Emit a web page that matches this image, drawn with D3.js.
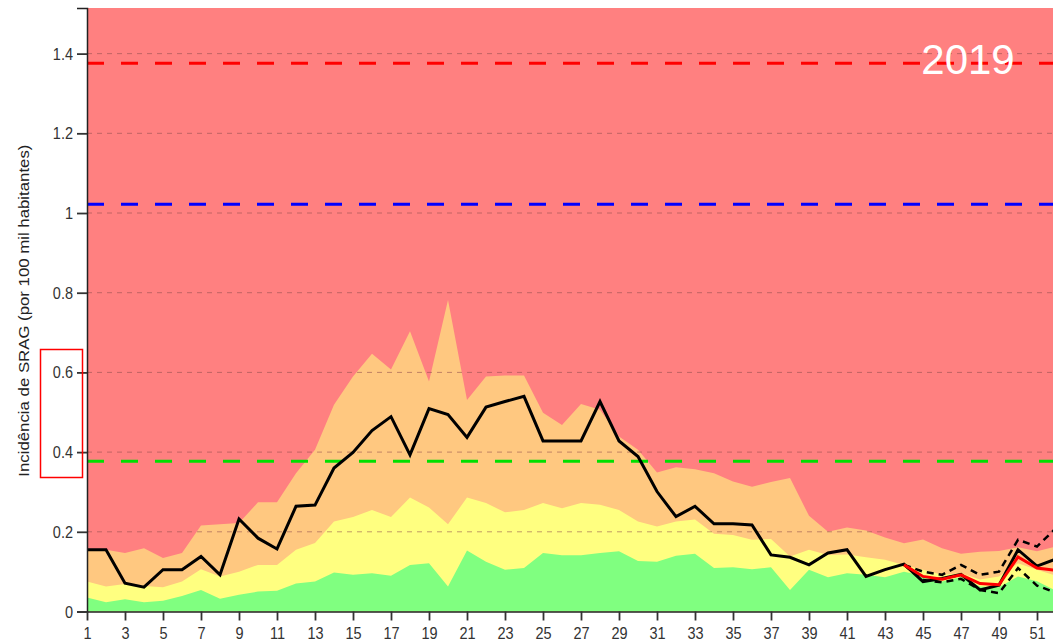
<!DOCTYPE html>
<html>
<head>
<meta charset="utf-8">
<script src="https://cdn.jsdelivr.net/npm/d3@7"></script>
<style>
  html, body { margin: 0; padding: 0; background: #fff; }
  svg { display: block; font-family: "Liberation Sans", Arial, sans-serif; }
</style>
</head>
<body>
<div id="chart"></div>
<script>
// weeks (epidemiological week)
const weeks = d3.range(1, 53);

// weekly SRAG incidence (black line)
const incidence = [0.155, 0.155, 0.071, 0.061, 0.105, 0.105, 0.138, 0.092, 0.232, 0.184,
  0.157, 0.264, 0.267, 0.360, 0.399, 0.454, 0.489, 0.393, 0.509, 0.494,
  0.437, 0.513, 0.527, 0.540, 0.428, 0.428, 0.428, 0.527, 0.428, 0.389,
  0.301, 0.238, 0.264, 0.220, 0.220, 0.217, 0.142, 0.136, 0.117, 0.147,
  0.155, 0.088, 0.105, 0.119, 0.075, 0.083, 0.093, 0.054, 0.066, 0.155,
  0.114, 0.132];

// background bands (upper limit of each zone)
const greenTop = [0.035, 0.023, 0.031, 0.023, 0.027, 0.039, 0.054, 0.032, 0.042, 0.050,
  0.052, 0.070, 0.075, 0.098, 0.092, 0.096, 0.090, 0.117, 0.121, 0.063,
  0.153, 0.125, 0.105, 0.109, 0.147, 0.141, 0.141, 0.147, 0.151, 0.127,
  0.125, 0.140, 0.145, 0.109, 0.111, 0.106, 0.111, 0.054, 0.105, 0.086,
  0.096, 0.092, 0.086, 0.100, 0.090, 0.075, 0.086, 0.063, 0.061, 0.088,
  0.076, 0.052];
const yellowTop = [0.075, 0.063, 0.069, 0.064, 0.061, 0.075, 0.106, 0.088, 0.100, 0.117,
  0.117, 0.155, 0.172, 0.226, 0.237, 0.255, 0.237, 0.286, 0.261, 0.219,
  0.286, 0.272, 0.249, 0.255, 0.272, 0.259, 0.272, 0.268, 0.255, 0.226,
  0.213, 0.226, 0.231, 0.195, 0.192, 0.180, 0.182, 0.138, 0.155, 0.142,
  0.143, 0.136, 0.130, 0.117, 0.105, 0.092, 0.096, 0.080, 0.088, 0.121,
  0.105, 0.090];
const orangeTop = [0.157, 0.155, 0.147, 0.159, 0.134, 0.147, 0.216, 0.219, 0.222, 0.274,
  0.274, 0.347, 0.406, 0.519, 0.590, 0.647, 0.607, 0.703, 0.577, 0.782,
  0.531, 0.590, 0.592, 0.592, 0.499, 0.468, 0.521, 0.506, 0.439, 0.406,
  0.349, 0.362, 0.357, 0.347, 0.326, 0.313, 0.325, 0.335, 0.240, 0.200,
  0.211, 0.203, 0.186, 0.171, 0.181, 0.159, 0.145, 0.150, 0.152, 0.161,
  0.151, 0.163];

// nowcast estimate and interval (weeks 44-52)
const estWeeks = d3.range(44, 53);
const estimate = [0.117, 0.088, 0.081, 0.092, 0.070, 0.067, 0.137, 0.109, 0.103];
const estUpper = [0.117, 0.100, 0.092, 0.117, 0.092, 0.100, 0.180, 0.163, 0.209];
const estLower = [0.117, 0.079, 0.073, 0.082, 0.054, 0.046, 0.109, 0.065, 0.047];

// thresholds
const thresholds = [1.376, 1.022, 0.377];
const thresholdColors = ['#ff0000', '#0000ff', '#00e000'];

const yTicks = [0, 0.2, 0.4, 0.6, 0.8, 1, 1.2, 1.4];
const xTicks = d3.range(1, 53, 2);
const yearLabel = '2019';
const yTitle = 'Incidência de SRAG (por 100 mil habitantes)';

const width = 1053, height = 641;
const svg = d3.select('#chart').append('svg')
  .attr('width', width)
  .attr('height', height);

const x = d3.scaleLinear().domain([1, 52]).range([87, 87 + 51 * 19]);
const y = d3.scaleLinear().domain([0, 1.5145]).range([611.5, 8]);

const plot = svg.append('g');

// red zone = whole plot
plot.append('rect')
  .attr('x', x(1)).attr('y', y(1.5145))
  .attr('width', x(52) - x(1)).attr('height', y(0) - y(1.5145))
  .attr('fill', '#ff8080');

function band(vals, color) {
  const area = d3.area()
    .x((d, i) => x(weeks[i]))
    .y0(y(0))
    .y1(d => y(d));
  plot.append('path').datum(vals).attr('fill', color).attr('d', area);
}
band(orangeTop, '#ffc880');
band(yellowTop, '#ffff80');
band(greenTop, '#80ff80');

// dashed grid
plot.selectAll('.grid').data(yTicks.filter(d => d > 0)).enter().append('line')
  .attr('x1', x(1)).attr('x2', x(52))
  .attr('y1', d => y(d)).attr('y2', d => y(d))
  .attr('stroke', '#8c4a4a').attr('stroke-opacity', 0.55)
  .attr('stroke-width', 1)
  .attr('stroke-dasharray', '5,5');

// threshold lines
plot.selectAll('.thr').data(thresholds).enter().append('line')
  .attr('x1', x(1)).attr('x2', x(52))
  .attr('y1', d => y(d)).attr('y2', d => y(d))
  .attr('stroke', (d, i) => thresholdColors[i])
  .attr('stroke-width', 3)
  .attr('stroke-dasharray', '17,17');

const line = d3.line().x((d, i) => x(weeks[i])).y(d => y(d));
const estLine = d3.line().x((d, i) => x(estWeeks[i])).y(d => y(d));

// observed incidence
plot.append('path').datum(incidence)
  .attr('fill', 'none').attr('stroke', '#000').attr('stroke-width', 3)
  .attr('d', line);

// interval
[estUpper, estLower].forEach(vals => {
  plot.append('path').datum(vals)
    .attr('fill', 'none').attr('stroke', '#000').attr('stroke-width', 2.5)
    .attr('stroke-dasharray', '7,5')
    .attr('d', estLine);
});

// estimate
plot.append('path').datum(estimate)
  .attr('fill', 'none').attr('stroke', '#ff0000').attr('stroke-width', 3)
  .attr('d', estLine);

// axes
const yAxis = svg.append('g')
  .attr('transform', `translate(${x(1)},0)`)
  .call(d3.axisLeft(y).tickValues(yTicks).tickFormat(d => String(d)).tickSize(10).tickSizeOuter(10));
const xAxis = svg.append('g')
  .attr('transform', `translate(0,${y(0)})`)
  .call(d3.axisBottom(x).tickValues(xTicks).tickFormat(d => String(d)).tickSize(9).tickSizeOuter(0));

[yAxis, xAxis].forEach(a => {
  a.select('.domain').attr('stroke', '#222').attr('stroke-width', 1.5);
  a.selectAll('.tick line').attr('stroke', '#333').attr('stroke-width', 1.8);
  a.selectAll('.tick text')
    .attr('fill', '#333')
    .style('font-size', '14.5px')
    .style('font-family', '"Liberation Sans", Arial, sans-serif');
});
// labels look slightly stretched vertically in the original
yAxis.selectAll('.tick text')
  .attr('x', null).attr('dy', null)
  .attr('transform', 'translate(-14,5.5) scale(1,1.12)');
xAxis.selectAll('.tick text')
  .attr('y', null).attr('dy', null)
  .attr('transform', 'translate(0,27.5) scale(1,1.08)');

// axis title
svg.append('text')
  .attr('transform', `translate(28.5,${y(0.755)}) rotate(-90) scale(1.12,1)`)
  .attr('text-anchor', 'middle')
  .attr('fill', '#222')
  .style('font-size', '15px')
  .text(yTitle);

// year label
svg.append('text')
  .attr('x', 968).attr('y', 74)
  .attr('text-anchor', 'middle')
  .attr('fill', '#fff')
  .style('font-size', '42px')
  .text(yearLabel);

// highlight box around 0.4-0.6 labels
svg.append('rect')
  .attr('x', 40.5).attr('y', 349.5)
  .attr('width', 42).attr('height', 128)
  .attr('fill', 'none')
  .attr('stroke', '#ff0000')
  .attr('stroke-width', 1.5);
</script>
</body>
</html>
